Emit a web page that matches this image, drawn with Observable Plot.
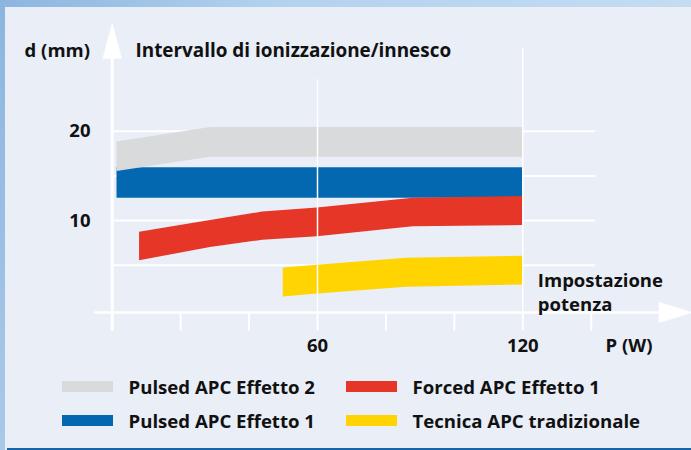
<!DOCTYPE html>
<html>
<head>
<meta charset="utf-8">
<script src="https://cdn.jsdelivr.net/npm/d3@7"></script>
<script src="https://cdn.jsdelivr.net/npm/@observablehq/plot@0.6"></script>
<style>
  html, body { margin: 0; padding: 0; }
  body { width: 691px; height: 450px; overflow: hidden; background: #e9eef7; font-family: "Open Sans", sans-serif; }
  #wrap { position: relative; width: 691px; height: 450px; }
  #topstrip { position: absolute; left: 0; top: 0; width: 691px; height: 7px; background: linear-gradient(to right, #8cb5df, #b3d2ee 40%, #c3dcf2); }
  #leftstrip { position: absolute; left: 0; top: 0; width: 5px; height: 450px; background: linear-gradient(to bottom, #8cb5df, #a9c9e9); }
  #bottomline { position: absolute; left: 7px; top: 448px; width: 684px; height: 2px; background: #1764a8; }
  #chart { position: absolute; left: 0; top: 0; }
  #legend { position: absolute; left: 0; top: 365px; width: 691px; height: 83px; }
  .item { position: absolute; display: flex; align-items: center; height: 20px; }
  .sw { width: 51px; height: 11px; margin-right: 15.5px; }
  .lab { font-family: "Open Sans", sans-serif; font-weight: 700; font-size: 18.6px; color: #111; white-space: nowrap; }
</style>
</head>
<body>
<div id="wrap">
  <div id="topstrip"></div>
  <div id="leftstrip"></div>
  <div id="bottomline"></div>
  <div id="chart"></div>
  <div id="legend"></div>
</div>
<script>
// ---- data ----
const seriesNames = ["Pulsed APC Effetto 2", "Pulsed APC Effetto 1", "Forced APC Effetto 1", "Tecnica APC tradizionale"];
const seriesColors = ["#d9dadc", "#0468b1", "#e53628", "#ffd400"];

const pulsed2Power = [1.4, 28.7, 120];
const pulsed2Low   = [15.5, 17.1, 17.1];
const pulsed2High  = [18.8, 20.4, 20.4];

const pulsed1Power = [1.4, 120];
const pulsed1Low   = [12.5, 12.5];
const pulsed1High  = [15.9, 15.9];

const forcedPower = [8, 28.7, 44, 60, 88, 120];
const forcedLow   = [5.5, 7.0, 7.8, 8.2, 9.3, 9.45];
const forcedHigh  = [8.7, 10.0, 10.95, 11.4, 12.5, 12.7];

const classicPower = [50, 60, 86, 120];
const classicLow   = [1.45, 1.8, 2.55, 2.8];
const classicHigh  = [4.7, 5.0, 5.8, 6.0];

const xTickLabels = [60, 120];
const yTickLabels = [10, 20];
const xTicks = [0, 20, 40, 60, 80, 100, 120, 140];
const yGrid = [5, 10, 15, 20];
const xGrid = [60, 120];
const xGridTop = [25.75, 29.3];

const yTitle = "d (mm)";
const chartTitle = "Intervallo di ionizzazione/innesco";
const xNote = "Impostazione\npotenza";
const xTitle = "P (W)";

// ---- build tables ----
function band(name, power, low, high) {
  return power.map((p, i) => ({series: name, p, lo: low[i], hi: high[i]}));
}
const bands = [
  band(seriesNames[1], pulsed1Power, pulsed1Low, pulsed1High),
  band(seriesNames[0], pulsed2Power, pulsed2Low, pulsed2High),
  band(seriesNames[2], forcedPower, forcedLow, forcedHigh),
  band(seriesNames[3], classicPower, classicLow, classicHigh)
];

const axisY0 = -0.28;   // level of the drawn horizontal axis
const tickBottom = -2.37;
const white = "#ffffff";
const txt = {fontFamily: "Open Sans", fontWeight: 700, fontSize: 18.5, fill: "#111"};

const plot = Plot.plot({
  width: 691,
  height: 365,
  marginLeft: 111.7,
  marginRight: 100.26,
  marginTop: 130.7,
  marginBottom: 55.5,
  style: {background: "transparent", fontFamily: "Open Sans", overflow: "visible"},
  x: {domain: [0, 140], axis: null},
  y: {domain: [0, 20], axis: null},
  color: {domain: seriesNames, range: seriesColors},
  marks: [
    // horizontal grid
    Plot.ruleY(yGrid, {x1: 0, x2: 141.3, stroke: white, strokeWidth: 2}),
    // bands
    ...bands.map(b => Plot.areaY(b, {x: "p", y1: "lo", y2: "hi", fill: "series", curve: "linear"})),
    // vertical grid on top of the bands
    Plot.ruleX(xGrid.map((v, i) => ({v, top: xGridTop[i]})), {x: "v", y1: axisY0, y2: "top", stroke: white, strokeWidth: 1.5}),
    // ticks below x axis
    Plot.ruleX(xTicks, {y1: axisY0, y2: tickBottom, stroke: white, strokeWidth: 2}),
    // axes
    Plot.ruleY([axisY0], {x1: -5.1, x2: 160, stroke: white, strokeWidth: 2.6}),
    Plot.ruleX([0], {y1: tickBottom, y2: 28.2, stroke: white, strokeWidth: 3}),
    Plot.vector([{x: 0, y: 28.1}], {x: "x", y: "y", length: 35.6, r: 9.5, shape: "spike", anchor: "start", rotate: 0, fill: white, stroke: white, strokeWidth: 0.5}),
    Plot.vector([{x: 159.7, y: axisY0}], {x: "x", y: "y", length: 34, r: 10.3, shape: "spike", anchor: "start", rotate: 90, fill: white, stroke: white, strokeWidth: 0.5}),
    // tick labels
    Plot.text(yTickLabels, {x: 0, y: d => d, text: d => String(d), textAnchor: "end", dx: -21.7, lineAnchor: "middle", ...txt}),
    Plot.text(xTickLabels, {x: d => d, y: -4.03, text: d => String(d), textAnchor: "middle", lineAnchor: "middle", ...txt}),
    // titles
    Plot.text([yTitle], {x: -25.6, y: 29.0, text: d => d, textAnchor: "start", lineAnchor: "middle", ...txt}),
    Plot.text([chartTitle], {x: 6.8, y: 29.0, text: d => d, textAnchor: "start", lineAnchor: "middle", ...txt, fontSize: 18.9}),
    Plot.text([xNote], {x: 124.4, y: 2.07, text: d => d, textAnchor: "start", lineAnchor: "middle", lineHeight: 1.28, ...txt}),
    Plot.text([xTitle], {x: 144.2, y: -4.08, text: d => d, textAnchor: "start", lineAnchor: "middle", ...txt})
  ]
});
document.getElementById("chart").appendChild(plot);

// ---- legend (HTML, below the SVG) ----
const legend = document.getElementById("legend");
const legendPos = [[62, 11.5], [62, 45.5], [346, 11.5], [346, 45.5]];
seriesNames.forEach((name, i) => {
  const it = document.createElement("div");
  it.className = "item";
  it.style.left = legendPos[i][0] + "px";
  it.style.top = legendPos[i][1] + "px";
  const sw = document.createElement("div");
  sw.className = "sw";
  sw.style.background = seriesColors[i];
  const lab = document.createElement("span");
  lab.className = "lab";
  lab.textContent = name;
  it.appendChild(sw);
  it.appendChild(lab);
  legend.appendChild(it);
});
</script>
</body>
</html>
